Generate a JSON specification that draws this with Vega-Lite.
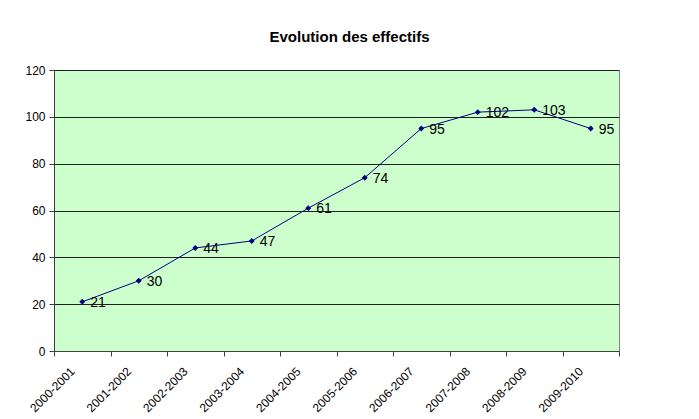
{
  "$schema": "https://vega.github.io/schema/vega-lite/v6.json",
  "width": 565,
  "height": 281,
  "autosize": {"type": "none"},
  "padding": {"left": 54, "top": 70, "right": 80, "bottom": 68},
  "background": "white",
  "title": {
    "text": "Evolution des effectifs",
    "font": "Liberation Sans",
    "fontSize": 15,
    "fontWeight": "bold",
    "color": "black",
    "anchor": "middle",
    "dx": 13,
    "offset": 19
  },
  "config": {
    "view": {"fill": "#CCFFCC", "stroke": "#808080", "strokeWidth": 1},
    "axis": {
      "labelFont": "Liberation Sans",
      "labelFontSize": 12,
      "labelColor": "black",
      "domainColor": "#404040",
      "tickColor": "#404040",
      "tickSize": 5,
      "titleFont": "Liberation Sans"
    }
  },
  "data": {
    "values": [
      {"annee": "2000-2001", "effectif": 21},
      {"annee": "2001-2002", "effectif": 30},
      {"annee": "2002-2003", "effectif": 44},
      {"annee": "2003-2004", "effectif": 47},
      {"annee": "2004-2005", "effectif": 61},
      {"annee": "2005-2006", "effectif": 74},
      {"annee": "2006-2007", "effectif": 95},
      {"annee": "2007-2008", "effectif": 102},
      {"annee": "2008-2009", "effectif": 103},
      {"annee": "2009-2010", "effectif": 95}
    ]
  },
  "encoding": {
    "x": {
      "field": "annee",
      "type": "nominal",
      "sort": null,
      "bandPosition": 0.5,
      "scale": {"type": "band", "paddingInner": 0, "paddingOuter": 0},
      "axis": {
        "title": null,
        "labelAngle": -45,
        "labelAlign": "right",
        "labelBaseline": "middle",
        "labelFontSize": 12,
        "labelPadding": 13,
        "labelOffset": -10,
        "tickBand": "extent",
        "grid": false
      }
    },
    "y": {
      "field": "effectif",
      "type": "quantitative",
      "scale": {"domain": [0, 120], "nice": false},
      "axis": {
        "title": null,
        "values": [0, 20, 40, 60, 80, 100, 120],
        "grid": true,
        "gridColor": "#202020",
        "gridOpacity": 1,
        "labelPadding": 4
      }
    }
  },
  "layer": [
    {"mark": {"type": "line", "color": "#000080", "strokeWidth": 1}},
    {"mark": {"type": "point", "shape": "diamond", "filled": true, "color": "#000080", "size": 35, "opacity": 1}},
    {
      "mark": {"type": "text", "align": "left", "baseline": "middle", "dx": 8, "dy": 1, "font": "Liberation Sans", "fontSize": 14, "color": "black"},
      "encoding": {"text": {"field": "effectif", "type": "quantitative"}}
    }
  ]
}
